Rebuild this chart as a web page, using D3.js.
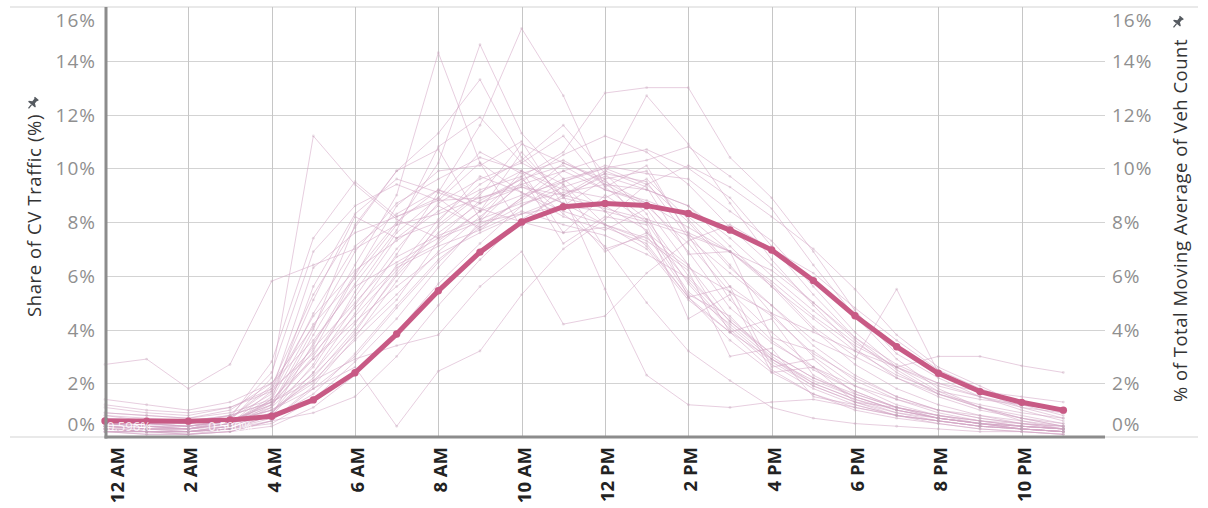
<!DOCTYPE html>
<html>
<head>
<meta charset="utf-8">
<script src="https://cdn.jsdelivr.net/npm/d3@7"></script>
<style>
  body { margin: 0; background: #ffffff; }
  svg { display: block; }
</style>
</head>
<body>
<svg id="chart" width="1208" height="508"></svg>
<script>
// Hour of day (0 = midnight)
const hours = [0,1,2,3,4,5,6,7,8,9,10,11,12,13,14,15,16,17,18,19,20,21,22,23];
const tickHours = [0,2,4,6,8,10,12,14,16,18,20,22];
const tickLabels = ["12 AM","2 AM","4 AM","6 AM","8 AM","10 AM","12 PM","2 PM","4 PM","6 PM","8 PM","10 PM"];
const yTicks = [0,2,4,6,8,10,12,14,16];

// Moving average share of CV traffic (%) by hour
const avgShare = [0.596,0.592,0.590,0.63,0.77,1.38,2.39,3.83,5.44,6.88,8.0,8.57,8.69,8.61,8.32,7.70,6.96,5.82,4.51,3.36,2.37,1.69,1.29,1.00];

// Labels shown on the average line
const avgLabelHours = [0,2];
const avgLabelText = ["0.596%","0.590%"];

// Share of CV traffic (%) by hour, one row per count site
const siteShares = [
  [2.7,2.9,1.8,2.7,5.8,6.4,7.0,7.9,8.3,8.9,9.4,8.7,7.9,7.4,6.3,5.4,4.6,3.9,3.2,2.6,3.0,3.0,2.65,2.4],
  [0.4,0.3,0.3,0.6,2.2,11.2,9.4,8.1,7.4,8.8,9.6,10.1,9.2,8.7,6.9,4.8,3.5,2.6,1.9,1.4,1.0,0.8,0.6,0.4],
  [0.3,0.2,0.2,0.4,1.1,3.8,6.4,9.0,14.3,10.2,9.1,8.4,7.9,7.0,5.1,3.9,2.9,2.1,1.5,1.0,0.7,0.5,0.3,0.2],
  [0.5,0.4,0.3,0.5,1.4,4.2,5.9,7.9,10.2,14.6,11.3,9.6,8.4,7.1,5.2,3.6,2.4,1.6,1.1,0.8,0.6,0.4,0.3,0.2],
  [0.3,0.3,0.2,0.3,0.8,2.4,4.6,6.8,9.1,11.6,15.2,12.7,9.3,8.1,6.0,4.3,3.0,2.0,1.4,0.9,0.6,0.4,0.3,0.2],
  [0.6,0.5,0.4,0.7,1.9,5.3,7.8,9.9,11.3,13.3,10.4,9.0,8.6,7.7,5.4,4.2,2.9,2.0,1.4,1.0,0.7,0.5,0.4,0.3],
  [0.4,0.3,0.3,0.5,1.0,2.1,3.6,5.1,7.3,8.4,9.7,10.6,12.8,13.0,13.0,10.4,8.9,6.9,4.7,3.1,2.2,1.5,1.0,0.6],
  [0.5,0.4,0.4,0.6,1.2,2.9,4.5,6.2,8.1,9.4,10.3,11.6,9.8,12.7,10.9,8.7,6.6,4.9,3.3,2.2,1.5,1.0,0.7,0.5],
  [0.3,0.2,0.2,0.3,0.7,1.6,3.1,4.9,6.6,7.8,8.6,9.3,9.8,9.5,7.4,6.1,4.9,3.6,2.9,5.5,2.4,1.7,1.1,0.7],
  [0.2,0.1,0.1,0.2,0.6,1.8,2.6,0.4,2.45,3.2,5.3,7.0,8.1,9.4,10.1,9.3,8.2,7.0,5.5,3.8,2.6,1.9,1.2,0.8],
  [0.8,0.7,0.6,0.8,1.3,2.1,2.9,3.4,3.8,5.6,6.9,4.2,4.5,6.1,7.3,7.9,7.0,6.1,4.8,3.6,2.5,1.8,1.3,0.9],
  [0.9,0.8,0.7,1.0,2.0,4.1,6.9,8.7,9.6,10.4,9.9,9.0,5.5,2.3,1.2,1.1,1.3,1.4,1.1,0.8,0.6,0.4,0.3,0.2],
  [0.4,0.3,0.3,0.5,1.5,4.6,7.1,8.3,9.2,8.4,10.6,8.9,9.8,8.3,5.2,5.6,2.6,2.9,1.6,1.1,0.8,0.6,0.4,0.3],
  [0.7,0.6,0.5,0.8,2.4,6.9,8.6,9.4,8.8,8.9,9.3,8.7,6.9,7.6,5.8,4.1,2.8,1.9,1.3,0.9,0.7,0.5,0.4,0.3],
  [0.2,0.2,0.1,0.3,0.9,2.7,5.4,7.6,8.9,10.6,9.8,10.3,9.4,8.6,7.2,5.4,3.9,2.6,1.7,1.1,0.7,0.5,0.3,0.2],
  [1.1,0.9,0.8,1.1,1.7,3.3,5.0,6.7,7.5,8.1,8.7,9.1,9.4,9.2,8.6,7.4,6.0,4.7,3.5,2.6,1.9,1.5,1.2,1.0],
  [0.3,0.3,0.2,0.4,1.2,4.0,7.9,9.9,10.7,8.1,9.9,7.6,9.0,8.0,5.7,4.0,2.7,1.8,1.2,0.8,0.6,0.4,0.3,0.2],
  [0.5,0.4,0.3,0.6,1.0,2.0,3.9,6.1,7.8,9.0,10.9,10.2,9.6,9.9,7.6,5.6,4.5,3.1,2.2,1.5,1.0,0.7,0.5,0.3],
  [0.6,0.5,0.5,0.7,1.6,5.1,8.2,7.4,8.0,9.7,9.1,8.2,7.7,8.5,6.4,3.9,4.4,2.3,1.5,1.0,0.7,0.5,0.4,0.3],
  [0.2,0.2,0.2,0.3,0.5,1.4,2.8,4.4,6.3,8.0,9.5,10.5,11.2,10.6,9.4,7.8,6.4,5.0,3.6,2.4,1.6,1.1,0.7,0.4],
  [1.4,1.2,1.0,1.3,2.0,3.6,5.6,6.5,7.4,8.0,8.3,8.9,8.5,8.1,7.6,6.9,5.8,4.5,3.4,2.6,2.0,1.7,1.5,1.3],
  [0.4,0.4,0.3,0.5,1.3,3.2,6.0,8.6,9.9,10.1,11.0,8.6,9.6,7.6,6.4,4.4,3.1,2.2,1.5,1.0,0.7,0.5,0.3,0.2],
  [0.3,0.2,0.2,0.4,0.9,2.4,4.2,6.4,7.2,8.4,9.0,9.5,10.1,9.8,9.6,8.4,7.3,5.6,3.9,2.6,1.7,1.1,0.7,0.4],
  [0.8,0.6,0.5,0.7,1.8,4.5,6.2,7.3,8.4,9.2,9.7,7.2,8.2,7.9,4.4,5.3,2.4,2.6,1.3,1.1,0.8,0.6,0.5,0.4],
  [0.5,0.4,0.4,0.6,1.1,2.6,4.9,7.0,8.7,9.6,10.2,11.2,9.3,10.1,7.5,5.1,3.6,2.5,1.7,1.1,0.7,0.5,0.4,0.3],
  [0.2,0.1,0.1,0.2,0.6,1.9,3.7,5.8,7.9,9.1,9.9,9.2,8.9,9.6,8.1,6.4,4.6,3.0,1.9,1.2,0.8,0.5,0.3,0.2],
  [0.9,0.8,0.7,0.9,1.4,2.9,4.3,5.6,6.8,7.6,8.3,8.6,8.4,8.0,7.5,6.9,6.2,5.0,3.7,2.7,2.0,1.5,1.1,0.9],
  [0.4,0.3,0.3,0.5,1.7,6.3,7.6,8.2,8.8,10.2,7.8,9.4,7.9,7.3,6.2,3.0,3.3,1.5,1.2,0.8,0.6,0.4,0.3,0.2],
  [0.6,0.5,0.4,0.6,1.0,1.8,3.0,4.8,6.5,7.9,8.8,9.9,10.4,10.7,10.0,8.9,7.1,5.3,3.7,2.5,1.6,1.1,0.8,0.5],
  [0.3,0.2,0.2,0.3,0.8,3.5,5.7,7.7,10.8,11.9,10.2,9.4,7.0,7.5,5.3,4.5,2.9,1.9,1.3,0.8,0.5,0.3,0.2,0.1],
  [0.7,0.6,0.6,0.8,1.3,2.3,3.8,5.3,6.9,8.2,9.4,9.9,9.2,8.8,8.2,6.9,5.7,4.1,3.0,2.2,1.6,1.2,0.9,0.7],
  [0.4,0.3,0.3,0.4,0.9,2.2,4.0,6.0,7.6,8.7,9.3,9.0,9.9,9.3,6.8,6.9,3.7,3.2,2.1,1.4,0.9,0.6,0.4,0.3],
  [1.2,1.0,0.9,1.1,1.8,3.1,4.8,6.3,7.1,7.7,8.9,10.2,9.5,8.7,7.8,6.9,5.6,4.4,3.2,2.3,1.7,1.4,1.2,1.0],
  [0.3,0.2,0.2,0.4,1.4,5.6,8.3,9.6,9.1,8.5,8.0,7.6,7.8,7.2,5.2,3.9,2.5,1.6,1.0,0.7,0.5,0.3,0.2,0.1],
  [0.5,0.5,0.4,0.6,1.2,3.0,5.2,7.4,8.6,7.8,8.9,9.6,10.0,9.4,8.0,6.3,4.9,3.4,2.3,1.5,1.0,0.7,0.5,0.4],
  [0.2,0.2,0.1,0.2,0.4,1.1,2.3,3.9,5.7,7.2,8.6,9.5,10.0,10.3,10.8,9.7,8.5,6.4,4.5,2.9,1.8,1.1,0.6,0.3],
  [0.6,0.5,0.4,0.6,1.3,3.4,6.1,8.0,9.2,8.7,9.6,8.3,7.1,5.0,3.2,2.1,1.1,0.7,0.5,0.4,0.3,0.2,0.2,0.1],
  [0.5,0.4,0.3,0.7,2.8,7.4,9.5,8.2,8.9,7.7,8.4,7.9,7.5,6.8,5.9,4.3,3.1,2.2,1.6,1.1,0.8,0.6,0.4,0.3],
  [0.3,0.2,0.2,0.3,0.6,0.9,1.5,3.0,4.9,6.6,8.1,9.0,9.7,9.2,8.6,7.1,5.6,4.0,2.7,1.8,1.2,0.8,0.5,0.3]
];

const svg = d3.select("#chart");
const W = 1208;

const x = d3.scaleLinear().domain([0, 24]).range([105, 1105]);
const y = d3.scaleLinear().domain([0, 16]).range([437, 7]);

const gridColor = "#d3d3d3";
const axisColor = "#8c8c8c";

// Outer frame lines (top and bottom, full width)
svg.append("line")
  .attr("x1", 10).attr("x2", W - 10)
  .attr("y1", y(16)).attr("y2", y(16))
  .attr("stroke", gridColor).attr("stroke-width", 1);
svg.append("line")
  .attr("x1", 10).attr("x2", W - 10)
  .attr("y1", y(0)).attr("y2", y(0))
  .attr("stroke", gridColor).attr("stroke-width", 1);

// Horizontal gridlines
svg.append("g").selectAll("line")
  .data(yTicks.filter(d => d > 0 && d < 16))
  .join("line")
  .attr("x1", x(0)).attr("x2", x(24))
  .attr("y1", d => Math.round(y(d)) + 0.5).attr("y2", d => Math.round(y(d)) + 0.5)
  .attr("stroke", gridColor).attr("stroke-width", 1);

// Vertical gridlines
svg.append("g").selectAll("line")
  .data(tickHours.filter(d => d > 0))
  .join("line")
  .attr("x1", d => Math.round(x(d)) + 0.5).attr("x2", d => Math.round(x(d)) + 0.5)
  .attr("y1", y(16)).attr("y2", y(0))
  .attr("stroke", "#c6c6c6").attr("stroke-width", 1);

// Individual site lines
const line = d3.line()
  .x((d, i) => x(hours[i]))
  .y(d => y(d));

const sites = svg.append("g");
sites.selectAll("path")
  .data(siteShares)
  .join("path")
  .attr("d", line)
  .attr("fill", "none")
  .attr("stroke", "#d4a5c5")
  .attr("stroke-opacity", 0.55)
  .attr("stroke-width", 1);

sites.selectAll("g.dots")
  .data(siteShares)
  .join("g")
  .attr("class", "dots")
  .selectAll("circle")
  .data(d => d)
  .join("circle")
  .attr("cx", (d, i) => x(hours[i]))
  .attr("cy", d => y(d))
  .attr("r", 1.4)
  .attr("fill", "#c4a3b8")
  .attr("fill-opacity", 0.35);

// Average line
svg.append("path")
  .datum(avgShare)
  .attr("d", line)
  .attr("fill", "none")
  .attr("stroke", "#c85a85")
  .attr("stroke-width", 5)
  .attr("stroke-linejoin", "round");

svg.append("g").selectAll("circle")
  .data(avgShare)
  .join("circle")
  .attr("cx", (d, i) => x(hours[i]))
  .attr("cy", d => y(d))
  .attr("r", 3.7)
  .attr("fill", "#c85a85");

// Value labels on the average line
svg.append("g").selectAll("text")
  .data(avgLabelHours)
  .join("text")
  .attr("x", (h, i) => x(h) + (i === 0 ? 2 : 20))
  .attr("y", h => y(avgShare[h]) + 10)
  .attr("font-family", "Open Sans, sans-serif")
  .attr("font-size", 13)
  .attr("fill", "#ffffff")
  .attr("fill-opacity", 0.85)
  .text((h, i) => avgLabelText[i]);

// Axis lines (left and bottom)
svg.append("line")
  .attr("x1", x(0) + 1).attr("x2", x(0) + 1)
  .attr("y1", y(16)).attr("y2", y(0) + 1.5)
  .attr("stroke", axisColor).attr("stroke-width", 3);
svg.append("line")
  .attr("x1", x(0) - 0.5).attr("x2", x(24))
  .attr("y1", y(0)).attr("y2", y(0))
  .attr("stroke", axisColor).attr("stroke-width", 3);

// Y-axis tick labels, left and right
function styleYAxis(g) {
  g.select(".domain").remove();
  g.selectAll("text")
    .attr("font-family", "Open Sans, sans-serif")
    .attr("font-size", 19)
    .attr("letter-spacing", 1)
    .attr("fill", "#8f8f8f")
    .attr("dy", d => d === 0 ? "-0.35em" : d === 16 ? "1.05em" : "0.35em");
}
const yFmt = d => d + "%";
svg.append("g")
  .attr("transform", `translate(${x(0)},0)`)
  .call(d3.axisLeft(y).tickValues(yTicks).tickFormat(yFmt).tickSize(0).tickPadding(9))
  .call(styleYAxis);
svg.append("g")
  .attr("transform", `translate(${x(24)},0)`)
  .call(d3.axisRight(y).tickValues(yTicks).tickFormat(yFmt).tickSize(0).tickPadding(7))
  .call(styleYAxis);

// X-axis tick labels, rotated
const xAxis = svg.append("g")
  .attr("transform", `translate(0,${y(0)})`)
  .call(d3.axisBottom(x).tickValues(tickHours).tickFormat((d, i) => tickLabels[i]).tickSize(0));
xAxis.select(".domain").remove();
xAxis.selectAll("text")
  .attr("transform", "rotate(-90)")
  .attr("x", -10)
  .attr("y", d => d === 0 ? 12 : 2)
  .attr("dy", "0.35em")
  .attr("text-anchor", "end")
  .attr("font-family", "Open Sans, sans-serif")
  .attr("font-size", 18.5)
  .attr("font-weight", "bold")
  .attr("fill", "#222222");

// Pin icon
function pin(g) {
  g.append("path")
    .attr("d", "M-2.5,-6 h5 v1.5 h-0.8 v3.5 l2.8,2 v1.2 h-9 v-1.2 l2.8,-2 v-3.5 h-0.8 z")
    .attr("fill", "#555a60");
  g.append("line")
    .attr("x1", 0).attr("x2", 0).attr("y1", 2.2).attr("y2", 7)
    .attr("stroke", "#555a60").attr("stroke-width", 1.3);
}

// Axis titles
svg.append("text")
  .attr("transform", "translate(41,114) rotate(-90)")
  .attr("text-anchor", "end")
  .attr("font-family", "Open Sans, sans-serif")
  .attr("font-size", 18.5)
  .attr("letter-spacing", 0.6)
  .attr("fill", "#333333")
  .text("Share of CV Traffic (%)");
svg.append("g").attr("transform", "translate(33,103) rotate(40)").call(pin);

svg.append("text")
  .attr("transform", "translate(1187,39) rotate(-90)")
  .attr("text-anchor", "end")
  .attr("font-family", "Open Sans, sans-serif")
  .attr("font-size", 18.5)
  .attr("letter-spacing", 0.5)
  .attr("fill", "#333333")
  .text("% of Total Moving Average of Veh Count");
svg.append("g").attr("transform", "translate(1178,22) rotate(40)").call(pin);
</script>
</body>
</html>
